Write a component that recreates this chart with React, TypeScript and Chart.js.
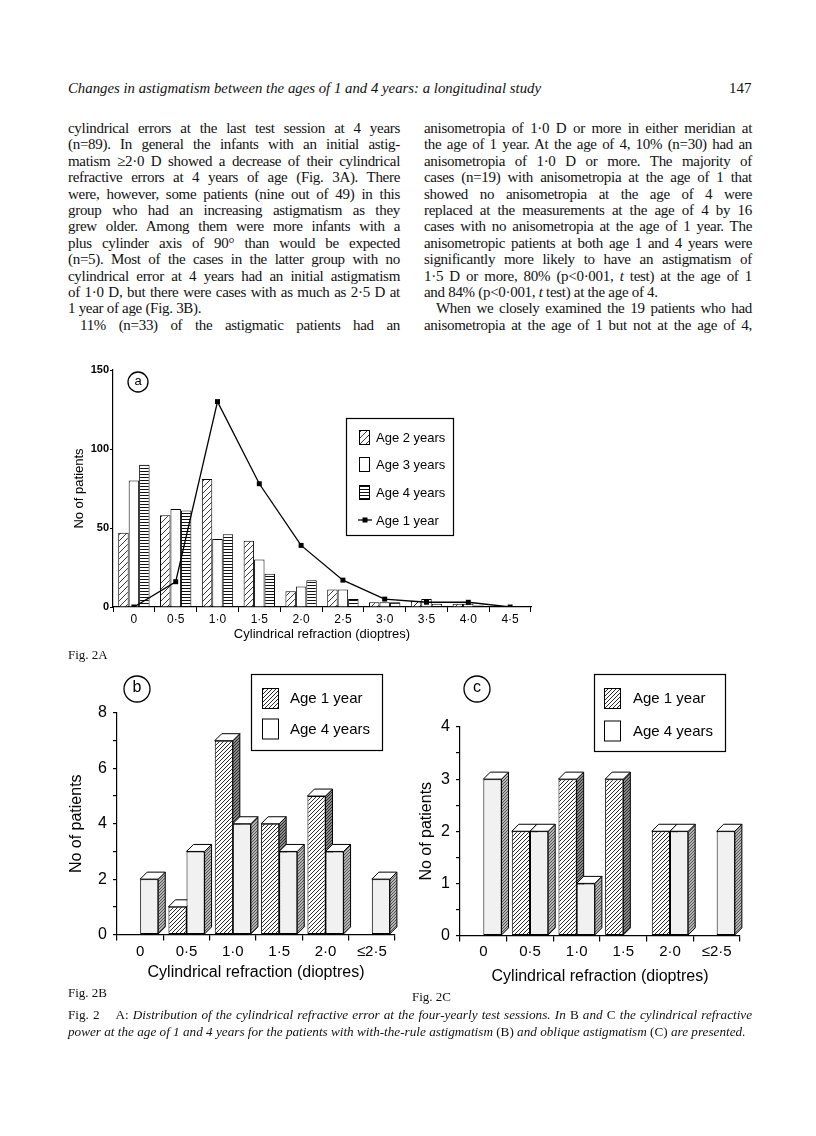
import React, { useEffect, useRef } from 'react';
import { Chart, registerables } from 'chart.js';
Chart.register(...registerables);

const SANS = '"Liberation Sans", Arial, sans-serif';
const SERIF = '"Liberation Serif", "Times New Roman", serif';

// ---- Fig. 2A data ----
const catsA = ['0', '0·5', '1·0', '1·5', '2·0', '2·5', '3·0', '3·5', '4·0', '4·5'];
const age2A = [47, 58, 81, 42, 10, 11, 3, 4, 2, 0];
const age3A = [80, 62, 43, 30, 13, 11, 3, 5, 2, 0];
const age4A = [90, 61, 46, 21, 17, 5, 3, 2, 1, 0];
const age1A = [0, 16, 130, 78, 39, 17, 5, 3, 3, 0];
const yLabelsA = [0, 50, 100, 150];

// ---- Fig. 2B / 2C data ----
const catsBC = ['0', '0·5', '1·0', '1·5', '2·0', '≤2·5'];
const age1B = [0, 1, 7, 4, 5, 0];
const age4B = [2, 3, 4, 3, 3, 2];
const yLabelsB = [0, 2, 4, 6, 8];
const age1C = [0, 2, 3, 3, 2, 0];
const age4C = [3, 2, 1, 0, 2, 2];
const yLabelsC = [0, 1, 2, 3, 4];

function pattern(size: number, bg: string, fg: string, lw: number, dir: string): CanvasPattern {
  const c = document.createElement('canvas');
  c.width = size;
  c.height = size;
  const g = c.getContext('2d')!;
  g.fillStyle = bg;
  g.fillRect(0, 0, size, size);
  if (dir === '-') {
    g.fillStyle = fg;
    g.fillRect(0, 0, size, lw);
  } else {
    g.strokeStyle = fg;
    g.lineWidth = lw;
    g.beginPath();
    g.moveTo(0, size);
    g.lineTo(size, 0);
    g.moveTo(-size / 2, size / 2);
    g.lineTo(size / 2, -size / 2);
    g.moveTo(size / 2, size * 1.5);
    g.lineTo(size * 1.5, size / 2);
    g.stroke();
  }
  return g.createPattern(c, 'repeat')!;
}

function tagPlugin(x: number, y: number, r: number, text: string, size: number) {
  return {
    id: 'tag',
    afterDraw(chart: any) {
      const ctx = chart.ctx;
      ctx.save();
      ctx.beginPath();
      ctx.arc(x, y, r, 0, Math.PI * 2);
      ctx.lineWidth = 1.3;
      ctx.strokeStyle = '#000';
      ctx.stroke();
      ctx.fillStyle = '#000';
      ctx.font = `${size}px ${SANS}`;
      ctx.textAlign = 'center';
      ctx.textBaseline = 'middle';
      ctx.fillText(text, x, y - 1);
      ctx.restore();
    },
  };
}

function legendPlugin(box: number[], rows: number[], sw: number[], textX: number, size: number) {
  return {
    id: 'boxLegend',
    afterDraw(chart: any) {
      const ctx = chart.ctx;
      const ds = chart.data.datasets;
      ctx.save();
      const [bx, by, bw, bh] = box;
      ctx.fillStyle = '#fff';
      ctx.fillRect(bx, by, bw, bh);
      ctx.strokeStyle = '#000';
      ctx.lineWidth = 1.2;
      ctx.strokeRect(bx + 0.5, by + 0.5, bw, bh);
      ctx.font = `${size}px ${SANS}`;
      ctx.textBaseline = 'middle';
      ds.forEach((d: any, i: number) => {
        const y = rows[i];
        const [sx, sw2, sh] = sw;
        if (d.type === 'line') {
          ctx.strokeStyle = '#000';
          ctx.lineWidth = 1.3;
          ctx.beginPath();
          ctx.moveTo(sx - 1, y);
          ctx.lineTo(sx + 13, y);
          ctx.stroke();
          ctx.fillStyle = '#000';
          ctx.fillRect(sx + 3.5, y - 2.5, 5, 5);
        } else {
          ctx.fillStyle = d.legendFill || d.backgroundColor;
          ctx.fillRect(sx, y - sh / 2, sw2, sh);
          ctx.strokeStyle = '#000';
          ctx.lineWidth = 1;
          ctx.strokeRect(sx + 0.5, y - sh / 2 + 0.5, sw2, sh);
        }
        ctx.fillStyle = '#000';
        ctx.fillText(d.label, textX, y + 1);
      });
      ctx.restore();
    },
  };
}

function bars3dPlugin(dx: number, dy: number, sides: any[]) {
  return {
    id: 'bars3d',
    beforeDatasetsDraw(chart: any) {
      const ctx = chart.ctx;
      const n = chart.data.labels.length;
      const metas = chart.data.datasets.map((_: any, i: number) => chart.getDatasetMeta(i));
      ctx.save();
      ctx.strokeStyle = '#000';
      ctx.lineWidth = 1;
      for (let j = 0; j < n; j++) {
        metas.forEach((meta: any, di: number) => {
          const el = meta.data[j];
          if (!el) return;
          const p = el.getProps(['x', 'y', 'base', 'width'], true);
          if (Math.abs(p.base - p.y) < 0.5) return;
          const L = p.x - p.width / 2;
          const R = p.x + p.width / 2;
          const T = p.y;
          const B = p.base;
          ctx.beginPath();
          ctx.moveTo(R, T);
          ctx.lineTo(R + dx, T - dy);
          ctx.lineTo(R + dx, B - dy);
          ctx.lineTo(R, B);
          ctx.closePath();
          ctx.fillStyle = sides[di];
          ctx.fill();
          ctx.stroke();
          ctx.beginPath();
          ctx.moveTo(L, T);
          ctx.lineTo(L + dx, T - dy);
          ctx.lineTo(R + dx, T - dy);
          ctx.lineTo(R, T);
          ctx.closePath();
          ctx.fillStyle = '#fff';
          ctx.fill();
          ctx.stroke();
        });
      }
      ctx.restore();
    },
  };
}

function buildA(canvas: HTMLCanvasElement) {
  const diag = pattern(6, '#fff', '#222', 0.9, '/');
  const horiz = pattern(3, '#fff', '#111', 1, '-');
  const barBase = { borderColor: '#000', borderWidth: 1, barPercentage: 1, categoryPercentage: 0.75, order: 1 };
  return new Chart(canvas, {
    type: 'bar',
    data: {
      labels: catsA,
      datasets: [
        { ...barBase, label: 'Age 2 years', data: age2A, backgroundColor: diag },
        { ...barBase, label: 'Age 3 years', data: age3A, backgroundColor: '#fff' },
        { ...barBase, label: 'Age 4 years', data: age4A, backgroundColor: horiz },
        {
          type: 'line', label: 'Age 1 year', data: age1A, borderColor: '#000', borderWidth: 1.3,
          pointStyle: 'rect', pointRadius: 3.5, pointBackgroundColor: '#000', pointBorderWidth: 0,
          tension: 0, fill: false, order: 0,
        } as any,
      ],
    },
    options: {
      responsive: false,
      animation: false,
      layout: { padding: { left: 0, right: 9, top: 10, bottom: 0 } },
      plugins: { legend: { display: false }, tooltip: { enabled: false } },
      scales: {
        x: {
          offset: true,
          grid: { offset: true, drawOnChartArea: false, drawTicks: true, tickLength: 5, color: '#000', lineWidth: 1 },
          border: { display: true, color: '#000', width: 1.2 },
          ticks: { color: '#000', font: { family: SANS, size: 12 }, padding: 0, maxRotation: 0, autoSkip: false },
          title: { display: true, text: 'Cylindrical refraction (dioptres)', color: '#000', font: { family: SANS, size: 13 }, padding: { top: 0, bottom: 18 } },
          afterFit: (s: any) => { s.height = 53; },
        },
        y: {
          min: 0,
          max: 150,
          grid: { drawOnChartArea: false, drawTicks: true, tickLength: 3, color: '#000', lineWidth: 1 },
          border: { display: true, color: '#000', width: 1.2 },
          ticks: {
            stepSize: 50, color: '#000', font: { family: SANS, size: 11, weight: 'bold' }, padding: 1,
            callback: (v: any) => (yLabelsA.includes(Number(v)) ? String(v) : ''),
          },
          title: { display: true, text: 'No of patients', color: '#000', font: { family: SANS, size: 13 }, padding: { top: 12, bottom: 0 } },
          afterFit: (s: any) => { s.width = 53; },
        },
      },
    } as any,
    plugins: [
      tagPlugin(78, 22, 10, 'a', 13),
      legendPlugin([286, 58, 107, 117], [77, 104, 132, 160], [299, 10, 14], 316, 13),
    ] as any,
  });
}

function buildBC(
  canvas: HTMLCanvasElement, a1: number[], a4: number[], yMax: number, step: number, yLabels: number[],
  geo: any, tag: string,
) {
  const front1 = pattern(4, '#fff', '#2a2a2a', 1, '/');
  const side1 = pattern(3, '#8a8a8a', '#2a2a2a', 1, '/');
  const side4 = pattern(3, '#b4b4b4', '#555', 1, '/');
  const barBase = { borderColor: '#000', borderWidth: 1, borderSkipped: false, barPercentage: 1, categoryPercentage: 0.78 };
  return new Chart(canvas, {
    type: 'bar',
    data: {
      labels: catsBC,
      datasets: [
        { ...barBase, label: 'Age 1 year', data: a1, backgroundColor: front1 },
        { ...barBase, label: 'Age 4 years', data: a4, backgroundColor: '#f1f1f1', legendFill: '#fff' } as any,
      ],
    },
    options: {
      responsive: false,
      animation: false,
      layout: { padding: { left: 0, right: geo.padR, top: geo.padT, bottom: 0 } },
      plugins: { legend: { display: false }, tooltip: { enabled: false } },
      scales: {
        x: {
          offset: true,
          grid: { offset: true, drawOnChartArea: false, drawTicks: true, tickLength: 6, color: '#000', lineWidth: 1.2 },
          border: { display: true, color: '#000', width: 1.2 },
          ticks: { color: '#000', font: { family: SANS, size: 15 }, padding: geo.xPad, maxRotation: 0, autoSkip: false },
          title: { display: true, text: 'Cylindrical refraction (dioptres)', color: '#000', font: { family: SANS, size: 16 }, padding: { top: 0, bottom: geo.xTitlePad } },
          afterFit: (s: any) => { s.height = geo.xH; },
        },
        y: {
          min: 0,
          max: yMax,
          grid: { drawOnChartArea: false, drawTicks: true, tickLength: 4, color: '#000', lineWidth: 1.2 },
          border: { display: true, color: '#000', width: 1.2 },
          ticks: {
            stepSize: step, color: '#000', font: { family: SANS, size: 16 }, padding: 6,
            callback: (v: any) => (yLabels.includes(Number(v)) ? String(v) : ''),
          },
          title: { display: true, text: 'No of patients', color: '#000', font: { family: SANS, size: 16 }, padding: { top: geo.yTitlePad, bottom: 0 } },
          afterFit: (s: any) => { s.width = geo.yW; },
        },
      },
    } as any,
    plugins: [
      bars3dPlugin(7, 7, [side1, side4]),
      tagPlugin(77, 24, 13, tag, 16),
      legendPlugin(geo.box, geo.rows, [geo.swX, 16, 20], geo.textX, 15),
    ] as any,
  });
}

const LH = 16.4;

function L({ j = true, indent = 0, children }: { j?: boolean; indent?: number; children: any }) {
  return (
    <div
      style={{
        height: LH,
        lineHeight: `${LH}px`,
        textAlign: j ? 'justify' : 'left',
        textAlignLast: j ? 'justify' : 'left',
        textIndent: indent,
      } as any}
    >
      {children}
    </div>
  );
}

export default function App() {
  const refA = useRef<HTMLCanvasElement>(null);
  const refB = useRef<HTMLCanvasElement>(null);
  const refC = useRef<HTMLCanvasElement>(null);

  useEffect(() => {
    const a = buildA(refA.current!);
    const b = buildBC(refB.current!, age1B, age4B, 8, 1, yLabelsB, {
      padR: 15, padT: 48, xH: 60.5, yW: 57, xPad: 2.5, xTitlePad: 12.4, yTitlePad: 7.4,
      box: [191, 9, 131, 76], rows: [33, 63.5], swX: 202, textX: 230,
    }, 'b');
    const c = buildBC(refC.current!, age1C, age4C, 4, 0.5, yLabelsC, {
      padR: 10, padT: 62, xH: 59.5, yW: 60, xPad: 1.8, xTitlePad: 8.7, yTitlePad: 17.4,
      box: [194, 9, 131, 77], rows: [33, 65.5], swX: 204, textX: 233,
    }, 'c');
    return () => {
      a.destroy();
      b.destroy();
      c.destroy();
    };
  }, []);

  const text: React.CSSProperties = { fontFamily: SERIF, fontSize: 15, color: '#111' };
  const body: React.CSSProperties = { ...text, letterSpacing: '-0.3px' };
  const abs = (left: number, top: number, width?: number): React.CSSProperties => ({ position: 'absolute', left, top, width });

  return (
    <div style={{ position: 'absolute', left: 0, top: 0, width: 816, height: 1136, overflow: 'hidden', background: '#fff' }}>
      <canvas ref={refA} width={480} height={300} style={abs(60, 360, 480)} />
      <canvas ref={refB} width={350} height={330} style={abs(60, 665, 350)} />
      <canvas ref={refC} width={350} height={330} style={abs(400, 665, 350)} />

      <div style={{ ...abs(68, 80), ...text, fontSize: 14.8, fontStyle: 'italic', whiteSpace: 'nowrap', lineHeight: '16px' }}>
        Changes in astigmatism between the ages of 1 and 4 years: a longitudinal study
      </div>
      <div style={{ ...abs(729, 80), ...text, lineHeight: '16px' }}>147</div>

      <div style={{ ...abs(68, 120, 332), ...body }}>
        <L>cylindrical errors at the last test session at 4 years</L>
        <L>(n=89). In general the infants with an initial astig-</L>
        <L>matism ≥2·0 D showed a decrease of their cylindrical</L>
        <L>refractive errors at 4 years of age (Fig. 3A). There</L>
        <L>were, however, some patients (nine out of 49) in this</L>
        <L>group who had an increasing astigmatism as they</L>
        <L>grew older. Among them were more infants with a</L>
        <L>plus cylinder axis of 90° than would be expected</L>
        <L>(n=5). Most of the cases in the latter group with no</L>
        <L>cylindrical error at 4 years had an initial astigmatism</L>
        <L>of 1·0 D, but there were cases with as much as 2·5 D at</L>
        <L j={false}>1 year of age (Fig. 3B).</L>
        <L indent={12}>11% (n=33) of the astigmatic patients had an</L>
      </div>

      <div style={{ ...abs(424, 120, 328), ...body }}>
        <L>anisometropia of 1·0 D or more in either meridian at</L>
        <L>the age of 1 year. At the age of 4, 10% (n=30) had an</L>
        <L>anisometropia of 1·0 D or more. The majority of</L>
        <L>cases (n=19) with anisometropia at the age of 1 that</L>
        <L>showed no anisometropia at the age of 4 were</L>
        <L>replaced at the measurements at the age of 4 by 16</L>
        <L>cases with no anisometropia at the age of 1 year. The</L>
        <L>anisometropic patients at both age 1 and 4 years were</L>
        <L>significantly more likely to have an astigmatism of</L>
        <L>1·5 D or more, 80% (p&lt;0·001, <i>t</i> test) at the age of 1</L>
        <L j={false}>and 84% (p&lt;0·001, <i>t</i> test) at the age of 4.</L>
        <L indent={12}>When we closely examined the 19 patients who had</L>
        <L>anisometropia at the age of 1 but not at the age of 4,</L>
      </div>

      <div style={{ ...abs(68, 647), ...text, fontSize: 13, lineHeight: '16px' }}>Fig. 2A</div>
      <div style={{ ...abs(68, 985), ...text, fontSize: 13, lineHeight: '16px' }}>Fig. 2B</div>
      <div style={{ ...abs(412, 989), ...text, fontSize: 13, lineHeight: '16px' }}>Fig. 2C</div>

      <div style={{ ...abs(68, 1006, 684), ...text, fontSize: 13.2 }}>
        <div style={{ height: 17, lineHeight: '17px', textAlign: 'justify', textAlignLast: 'justify' } as any}>
          Fig. 2&nbsp;&nbsp;&nbsp; A: <i>Distribution of the cylindrical refractive error at the four-yearly test sessions. In</i> B <i>and</i> C <i>the cylindrical refractive</i>
        </div>
        <div style={{ height: 17, lineHeight: '17px' }}>
          <i>power at the age of 1 and 4 years for the patients with with-the-rule astigmatism</i> (B) <i>and oblique astigmatism</i> (C) <i>are presented.</i>
        </div>
      </div>
    </div>
  );
}
